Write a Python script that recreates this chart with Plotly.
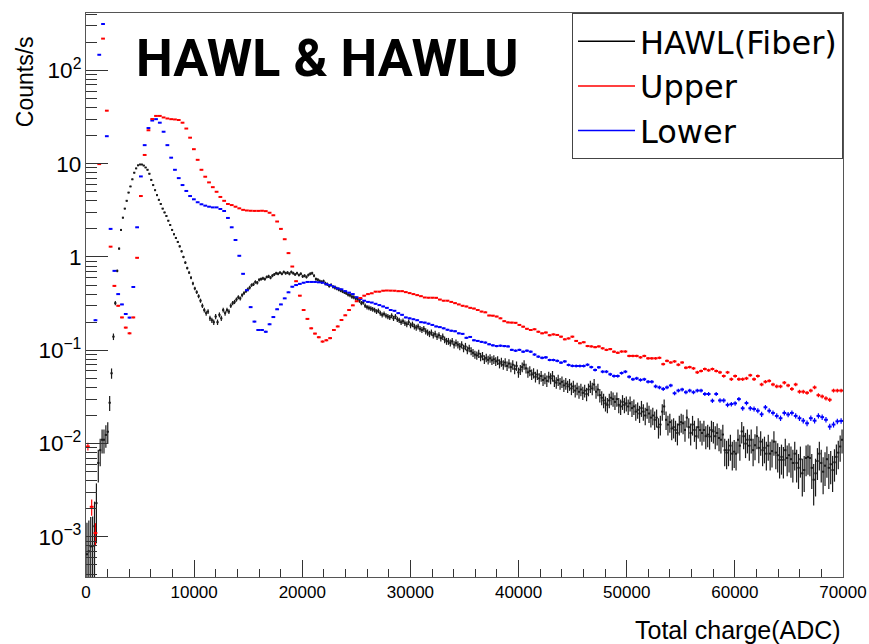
import numpy as np
import plotly.graph_objects as go

# Counts/s per bin
# Upper and Lower use 350 ADC bins (200 bins), fiber uses 175 ADC bins (400 bins)
UPPER_BIN = 350.0
FIBER_BIN = 175.0

upper = [
    0.0093, 0.0021, 0.0011, 9.9, 219, 37, 1.29, 0.49, 0.30, 0.225,
    0.175, 0.152, 0.225, 0.98, 4.5, 12.4, 22.8, 30.1, 32.5, 32.5,
    31.3, 30.5, 30.0, 29.8, 29.4, 27.5, 23.8, 19.0, 14.3, 11.0,
    8.6, 7.25, 6.3, 5.6, 5.0, 4.4, 4.0, 3.7, 3.6, 3.46,
    3.32, 3.2, 3.15, 3.13, 3.12, 3.12, 3.13, 3.1, 2.98, 2.8,
    2.4, 2.0, 1.55, 1.1, 0.79, 0.55, 0.385, 0.27, 0.217, 0.172,
    0.151, 0.138, 0.124, 0.128, 0.135, 0.165, 0.18, 0.211, 0.237, 0.27,
    0.303, 0.335, 0.363, 0.385, 0.40, 0.408, 0.425, 0.425, 0.435, 0.437,
    0.436, 0.435, 0.43, 0.43, 0.42, 0.41, 0.40, 0.39, 0.38, 0.368,
    0.366, 0.366, 0.365, 0.35, 0.34, 0.34, 0.33, 0.32, 0.31, 0.30,
    0.295, 0.285, 0.28, 0.27, 0.26, 0.255, 0.236, 0.235, 0.23, 0.22,
    0.205, 0.199, 0.198, 0.197, 0.187, 0.179, 0.17, 0.165, 0.168, 0.158,
    0.152, 0.155, 0.145, 0.148, 0.146, 0.14, 0.131, 0.134, 0.14, 0.126,
    0.119, 0.122, 0.111, 0.11, 0.108, 0.11, 0.105, 0.101, 0.103, 0.0966,
    0.094, 0.097, 0.097, 0.087, 0.087, 0.087, 0.084, 0.087, 0.082, 0.082,
    0.082, 0.083, 0.071, 0.077, 0.074, 0.076, 0.070, 0.074, 0.065, 0.066,
    0.064, 0.058, 0.060, 0.063, 0.061, 0.063, 0.060, 0.058, 0.053, 0.058,
    0.049, 0.053, 0.049, 0.049, 0.050, 0.054, 0.049, 0.053, 0.043, 0.046,
    0.047, 0.043, 0.041, 0.041, 0.045, 0.042, 0.0385, 0.043, 0.036, 0.036,
    0.035, 0.037, 0.040, 0.033, 0.032, 0.0305, 0.0295, 0.037, 0.037, 0.037,
]

lower = [
    None, None, 0.21, 147, 314, 19.7, 2.0, 0.71, 0.40, 0.31,
    0.245, 0.224, 0.477, 2.08, 7.3, 15.8, 24.1, 29, 30, 27.5,
    22, 15.8, 11.6, 8.6, 7.0, 5.9, 5.1, 4.5, 4.15, 3.86,
    3.67, 3.55, 3.46, 3.4, 3.4, 3.27, 3.11, 2.62, 2.08, 1.52,
    1.03, 0.66, 0.44, 0.29, 0.203, 0.165, 0.165, 0.158, 0.19, 0.227,
    0.275, 0.31, 0.36, 0.418, 0.48, 0.50, 0.515, 0.53, 0.54, 0.54,
    0.54, 0.535, 0.53, 0.51, 0.50, 0.48, 0.46, 0.45, 0.43, 0.415,
    0.40, 0.37, 0.355, 0.34, 0.33, 0.325, 0.315, 0.305, 0.295, 0.285,
    0.27, 0.265, 0.25, 0.24, 0.225, 0.22, 0.215, 0.21, 0.20, 0.198,
    0.193, 0.187, 0.18, 0.177, 0.172, 0.166, 0.162, 0.16, 0.152, 0.15,
    0.136, 0.139, 0.128, 0.126, 0.123, 0.121, 0.116, 0.113, 0.111, 0.112,
    0.111, 0.11, 0.101, 0.099, 0.101, 0.0966, 0.099, 0.0966, 0.09, 0.0855,
    0.083, 0.084, 0.0787, 0.0787, 0.077, 0.0737, 0.076, 0.0696, 0.068, 0.0679,
    0.0679, 0.0679, 0.07, 0.066, 0.0615, 0.0657, 0.059, 0.059, 0.0553, 0.053,
    0.053, 0.057, 0.059, 0.052, 0.0489, 0.050, 0.0481, 0.0489, 0.046, 0.046,
    0.041, 0.040, 0.0385, 0.040, 0.042, 0.0346, 0.037, 0.038, 0.0355, 0.037,
    0.0355, 0.037, 0.037, 0.034, 0.034, 0.0288, 0.034, 0.029, 0.029, 0.026,
    0.0265, 0.027, 0.030, 0.0239, 0.0272, 0.0239, 0.0235, 0.0225, 0.0206, 0.0245,
    0.0225, 0.0213, 0.0198, 0.0187, 0.0213, 0.0205, 0.0213, 0.0198, 0.0187, 0.0176,
    0.0165, 0.0187, 0.0176, 0.0198, 0.0192, 0.018, 0.0152, 0.016, 0.0173, 0.0175,
]

fiber = [
    0.00065, 0.0007, 0.00079, 0.0008, 0.0013, 0.0023, 0.0062, 0.0085, 0.011, 0.011,
    0.0124, 0.0134, 0.0274, 0.0567, 0.14, 0.32, 0.71, 1.23, 1.95, 2.64,
    3.3, 4.0, 4.9, 5.7, 6.8, 8.0, 8.9, 9.6, 9.8, 9.8,
    9.55, 9.1, 8.6, 7.8, 6.7, 5.9, 5.2, 4.6, 4.1, 3.7,
    3.3, 3.0, 2.75, 2.45, 2.2, 1.95, 1.75, 1.6, 1.45, 1.3,
    1.15, 1.0, 0.87, 0.76, 0.68, 0.6, 0.52, 0.46, 0.42, 0.38,
    0.34, 0.30, 0.27, 0.25, 0.26, 0.22, 0.21, 0.20, 0.23, 0.20,
    0.24, 0.22, 0.27, 0.25, 0.27, 0.26, 0.30, 0.32, 0.33, 0.35,
    0.37, 0.36, 0.39, 0.41, 0.43, 0.45, 0.47, 0.50, 0.51, 0.54,
    0.53, 0.57, 0.58, 0.59, 0.58, 0.61, 0.62, 0.60, 0.63, 0.65,
    0.67, 0.66, 0.68, 0.66, 0.69, 0.67, 0.68, 0.66, 0.69, 0.67,
    0.65, 0.67, 0.64, 0.66, 0.62, 0.63, 0.61, 0.64, 0.66, 0.67,
    0.63, 0.58, 0.57, 0.55, 0.54, 0.55, 0.52, 0.51, 0.49, 0.50,
    0.48, 0.47, 0.46, 0.45, 0.44, 0.43, 0.42, 0.41, 0.395, 0.39,
    0.375, 0.37, 0.36, 0.355, 0.34, 0.32, 0.325, 0.30, 0.29, 0.285,
    0.28, 0.275, 0.27, 0.26, 0.265, 0.25, 0.24, 0.245, 0.235, 0.23,
    0.225, 0.235, 0.22, 0.23, 0.215, 0.21, 0.20, 0.205, 0.195, 0.19,
    0.20, 0.185, 0.19, 0.18, 0.175, 0.18, 0.17, 0.165, 0.17, 0.16,
    0.155, 0.15, 0.155, 0.145, 0.15, 0.14, 0.145, 0.135, 0.14, 0.13,
    0.125, 0.125, 0.12, 0.125, 0.115, 0.12, 0.115, 0.11, 0.115, 0.105,
    0.11, 0.10, 0.105, 0.098, 0.094, 0.09, 0.088, 0.092, 0.085, 0.087,
    0.08, 0.083, 0.079, 0.082, 0.078, 0.08, 0.076, 0.078, 0.072, 0.075,
    0.07, 0.074, 0.068, 0.072, 0.066, 0.07, 0.063, 0.068, 0.058, 0.062,
    0.066, 0.07, 0.064, 0.058, 0.06, 0.055, 0.057, 0.052, 0.055, 0.05,
    0.053, 0.048, 0.05, 0.047, 0.052, 0.05, 0.053, 0.047, 0.045, 0.048,
    0.044, 0.046, 0.042, 0.044, 0.041, 0.043, 0.039, 0.041, 0.037, 0.039,
    0.036, 0.038, 0.035, 0.037, 0.034, 0.038, 0.041, 0.039, 0.043, 0.036,
    0.038, 0.033, 0.031, 0.029, 0.027, 0.026, 0.029, 0.031, 0.03, 0.028,
    0.03, 0.026, 0.025, 0.028, 0.026, 0.027, 0.025, 0.027, 0.024, 0.025,
    0.022, 0.023, 0.021, 0.024, 0.022, 0.02, 0.023, 0.021, 0.019, 0.02,
    0.018, 0.019, 0.015, 0.016, 0.022, 0.025, 0.018, 0.016, 0.017, 0.0145,
    0.015, 0.014, 0.013, 0.016, 0.017, 0.0165, 0.014, 0.019, 0.015, 0.013,
    0.016, 0.014, 0.012, 0.015, 0.014, 0.013, 0.014, 0.012, 0.0125, 0.0119,
    0.014, 0.0135, 0.012, 0.013, 0.0115, 0.011, 0.0125, 0.0085, 0.008, 0.0085,
    0.0095, 0.0078, 0.0082, 0.0078, 0.011, 0.0095, 0.0135, 0.012, 0.01, 0.011,
    0.0095, 0.011, 0.0085, 0.0096, 0.012, 0.009, 0.0105, 0.0085, 0.009, 0.0078,
    0.0095, 0.0078, 0.0083, 0.0105, 0.008, 0.0075, 0.0067, 0.0072, 0.0067, 0.0085,
    0.007, 0.0075, 0.0068, 0.0062, 0.0078, 0.0062, 0.0055, 0.0068, 0.0048, 0.0052,
    0.007, 0.0072, 0.007, 0.0055, 0.0041, 0.0048, 0.0065, 0.0078, 0.0062, 0.005,
    0.0058, 0.0068, 0.0055, 0.006, 0.0052, 0.0063, 0.0072, 0.008, 0.0093, 0.011,
]

# live time (s) used for the Poisson error bars
T_UPPER = 12000.0
T_LOWER = 12000.0
T_FIBER = 1100.0


def hist_trace(vals, binw, live, color, thick_x, thick_y, msize):
    y = np.array([np.nan if v is None else v for v in vals], dtype=float)
    x = (np.arange(len(y)) + 0.5) * binw
    err = np.sqrt(y * live) / live
    err_lo = np.minimum(err, y * 0.9999)
    return go.Scatter(
        x=x, y=y, mode="markers", showlegend=False, hoverinfo="skip",
        marker=dict(color=color, size=msize, symbol="square", line=dict(width=0)),
        error_x=dict(type="constant", value=binw / 2, color=color,
                     thickness=thick_x, width=0),
        error_y=dict(type="data", array=err, arrayminus=err_lo, symmetric=False,
                     color=color, thickness=thick_y, width=0),
    )


fig = go.Figure()
fig.add_trace(hist_trace(fiber, FIBER_BIN, T_FIBER, "#1a1a1a", 1, 1.2, 2))
fig.add_trace(hist_trace(lower, UPPER_BIN, T_LOWER, "#0000ff", 2, 1.2, 1))
fig.add_trace(hist_trace(upper, UPPER_BIN, T_UPPER, "#ff0000", 2, 1.2, 1))

# legend entries drawn as plain lines, like the ROOT TLegend
for name, col in [("HAWL(Fiber)", "black"), ("Upper", "red"), ("Lower", "blue")]:
    fig.add_trace(go.Scatter(x=[None], y=[None], mode="lines", name=name,
                             line=dict(color=col, width=1.5)))

axis_font = "Liberation Sans"

fig.update_layout(
    width=869, height=644,
    margin=dict(l=86, r=26, t=13, b=67),
    paper_bgcolor="white", plot_bgcolor="white",
    xaxis=dict(range=[0, 70000], dtick=10000, tickformat="d", automargin=False,
               ticks="inside", ticklen=17,
               tickcolor="#333", showline=True, linecolor="#555", mirror=True,
               showgrid=False, zeroline=False,
               tickfont=dict(family=axis_font, size=17, color="black"),
               minor=dict(dtick=2000, ticks="inside", ticklen=8, tickcolor="#333",
                          showgrid=False)),
    yaxis=dict(type="log", range=[-3.43, 2.615], dtick=1, exponentformat="power",
               automargin=False,
               ticks="inside", ticklen=22, tickcolor="#333", showline=True,
               linecolor="#555", mirror=True, showgrid=False, zeroline=False,
               tickfont=dict(family=axis_font, size=18, color="black"),
               minor=dict(dtick="D1", ticks="inside", ticklen=11, tickcolor="#333",
                          showgrid=False)),
    legend=dict(x=1, xanchor="right", y=1, yanchor="top", bgcolor="white",
                bordercolor="#444", borderwidth=1, itemwidth=57,
                font=dict(family="DejaVu Sans", size=32, color="black"),
                tracegroupgap=0),
    annotations=[
        dict(text="<b>HAWL & HAWLU</b>", xref="paper", yref="paper",
             x=0.064, y=0.92, xanchor="left", yanchor="middle", showarrow=False,
             font=dict(family="Roboto", size=52, color="black")),
        dict(text="Counts/s", xref="paper", yref="paper", x=-0.0806, y=0.879,
             xanchor="center", yanchor="middle", textangle=-90, showarrow=False,
             font=dict(family=axis_font, size=23, color="black")),
        dict(text="Total charge(ADC)", xref="paper", yref="paper", x=1.0, y=-0.094,
             xanchor="right", yanchor="middle", showarrow=False,
             font=dict(family=axis_font, size=25, color="black")),
    ],
)

# drop the default 8px page margin so the figure sits at the window origin
fig.write_html("out.html", config={"displayModeBar": False},
               post_script="document.body.style.margin='0';")
